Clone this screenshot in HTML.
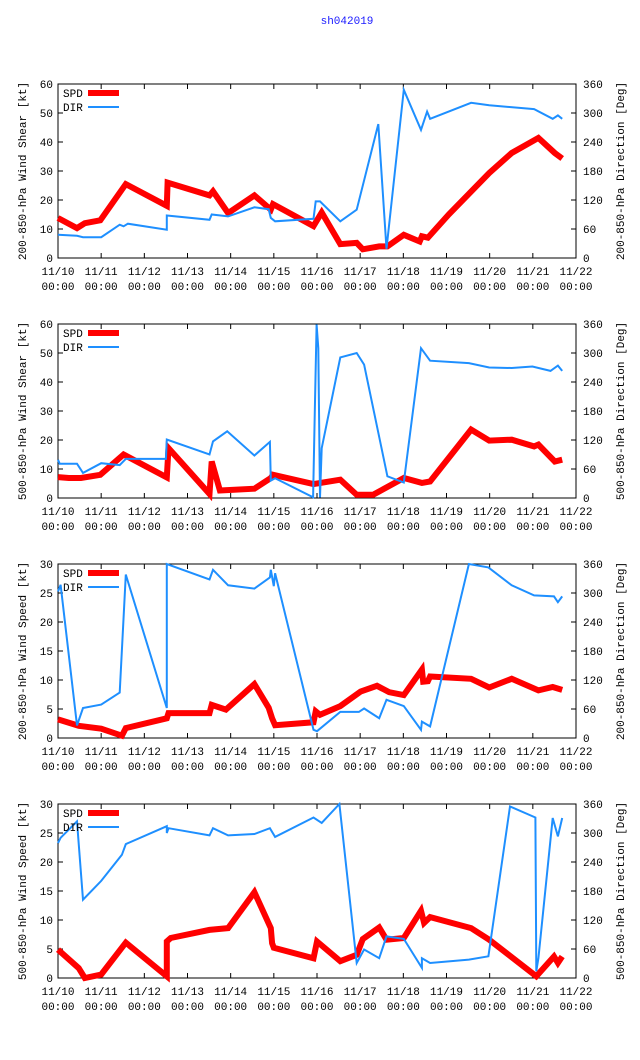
<!DOCTYPE html>
<html><head><meta charset="utf-8"><style>
body{margin:0;background:#fff;}
svg{display:block;font-family:"Liberation Mono",monospace;font-size:11px;}
</style></head><body>
<svg id="chart" width="640" height="1060" viewBox="0 0 640 1060">
<text x="347" y="24" text-anchor="middle" fill="#1a1aff">sh042019</text>
</svg>
<script>
const xTickLabels = ["11/10","11/11","11/12","11/13","11/14","11/15","11/16","11/17","11/18","11/19","11/20","11/21","11/22"];
const leftTitles = ["200-850-hPa Wind Shear [kt]","500-850-hPa Wind Shear [kt]","200-850-hPa Wind Speed [kt]","500-850-hPa Wind Speed [kt]"];
const rightTitles = ["200-850-hPa Direction [Deg]","500-850-hPa Direction [Deg]","200-850-hPa Direction [Deg]","500-850-hPa Direction [Deg]"];
const spdMax = [60,60,30,30];
const dirTicks = [0,60,120,180,240,300,360];

const p1SpdDays = [0,0.44,0.62,0.98,1.57,2.52,2.54,3.51,3.59,3.94,4.55,4.93,4.98,5.92,6.11,6.54,6.92,7.06,7.44,7.63,8.01,8.38,8.43,8.57,9.05,9.99,10.51,11.13,11.51,11.68];
const p1SpdVals = [13.8,10.3,12,13,25.5,18,26,21.6,23,15.5,21.6,16.7,18.6,11,15.7,4.8,5.2,3,4,4,8,5.7,7.5,7,15,29.3,36.2,41.4,36.2,34.3];
const p1DirDays = [0,0.44,0.58,1.0,1.43,1.52,1.62,2.52,2.52,3.51,3.56,3.94,4.55,4.88,4.93,5.03,5.92,5.97,6.07,6.54,6.92,7.42,7.61,8.01,8.41,8.55,8.62,9.57,9.99,11.03,11.46,11.58,11.68];
const p1DirVals = [48,46,43,43,69,65.5,71,58.6,88,79,90,86,105,101,83,76,81,117,117,76,100,277,19,348,265,303,288,321,316,308,288,295,288];

const p2SpdDays = [0,0.25,0.53,0.98,1.52,2.52,2.56,3.51,3.56,3.75,4.55,4.93,4.98,5.92,6.54,6.92,7.3,8.01,8.43,8.62,9.57,9.99,10.51,11.03,11.13,11.51,11.68];
const p2SpdVals = [7.2,6.9,6.9,8,15,7.1,17.2,1.4,12.6,2.6,3.2,6.9,8,4.8,6.3,1.1,1.1,6.9,5.2,5.7,23.6,19.8,20.1,17.8,18.4,12.6,13.2];
const p2DirDays = [0,0.04,0.44,0.58,1.0,1.43,1.57,2.5,2.52,3.51,3.59,3.92,4.55,4.91,4.93,5.03,5.91,5.95,5.99,6.03,6.07,6.11,6.54,6.92,7.09,7.63,8.01,8.41,8.62,9.52,9.99,10.51,10.99,11.41,11.58,11.68];
const p2DirVals = [79,71,71,52,72,68,81,81,121,90,117,138,88,116,36,41,1.4,179,359,310,1,103,291,300,276,45,32,310,284,279,270,269,272,263,274,263];

const p3SpdDays = [0,0.48,1.0,1.48,1.57,2.52,2.56,3.51,3.56,3.89,4.55,4.88,4.96,5.03,5.92,5.97,6.07,6.54,7.01,7.39,7.67,8.01,8.43,8.46,8.57,8.62,9.57,9.99,10.51,11.13,11.46,11.68];
const p3SpdVals = [3.2,2.1,1.6,0.4,1.7,3.4,4.3,4.3,5.7,4.9,9.3,5.2,3.4,2.2,2.7,4.6,4,5.5,8,9,7.9,7.4,11.8,9.7,9.8,10.6,10.2,8.7,10.2,8.2,8.8,8.3];
const p3DirDays = [0,0.06,0.44,0.58,1.0,1.43,1.57,2.52,2.52,3.51,3.59,3.94,4.55,4.91,4.93,5.0,5.03,5.92,6.0,6.54,6.97,7.09,7.44,7.61,8.01,8.41,8.43,8.62,9.52,9.97,10.51,11.03,11.49,11.58,11.68];
const p3DirVals = [303,317,26,62,69,94,338,62,360,328,348,316,309,332,348,314,341,17,14,54,54,61,41,79,66,17,34,24,360,353,316,295,293,281,293];

const p4SpdDays = [0,0.48,0.62,1.0,1.57,2.52,2.52,2.61,3.51,3.94,4.55,4.93,4.96,5.0,5.92,6.0,6.54,6.92,7.06,7.44,7.61,8.01,8.41,8.48,8.62,9.57,9.99,11.08,11.49,11.58,11.68];
const p4SpdVals = [4.9,1.7,0,0.6,6.1,0.3,6.3,6.9,8.3,8.6,14.8,8.6,6,5.2,3.4,6.3,2.9,4,6.7,8.7,6.6,6.9,11.6,9.5,10.5,8.6,6.6,0.3,3.7,2.6,3.7];
const p4DirDays = [0,0.06,0.44,0.58,1.0,1.48,1.57,2.52,2.52,2.56,3.51,3.59,3.94,4.55,4.91,5.03,5.92,6.11,6.52,6.92,7.09,7.44,7.61,8.01,8.43,8.43,8.62,9.52,9.97,10.47,11.06,11.08,11.13,11.46,11.58,11.68];
const p4DirVals = [279,290,324,162,201,255,277,314,300,310,295,310,295,298,310,292,332,321,360,31,59,41,86,81,21,41,31,38,45,355,332,14,41,331,293,331];

const spdDays = [p1SpdDays,p2SpdDays,p3SpdDays,p4SpdDays];
const spdVals = [p1SpdVals,p2SpdVals,p3SpdVals,p4SpdVals];
const dirDays = [p1DirDays,p2DirDays,p3DirDays,p4DirDays];
const dirVals = [p1DirVals,p2DirVals,p3DirVals,p4DirVals];

const svg = document.getElementById('chart');
const NS = 'http://www.w3.org/2000/svg';
const L = 58, R = 576, H = 174;
const tops = [84,324,564,804];
function mk(tag, attrs, parent){
  const e = document.createElementNS(NS, tag);
  for (const k in attrs) e.setAttribute(k, attrs[k]);
  (parent||svg).appendChild(e);
  return e;
}
const xScale = d => L + d/12*(R-L);

tops.forEach((T, p) => {
  const g = mk('g', {});
  
  
  const B = T + H;
  const yS = v => B - v/spdMax[p]*H;
  const yD = v => B - v/360*H;
  const frame = mk('rect', {x:L, y:T, width:R-L, height:H, fill:'none', stroke:'#000', 'stroke-width':1}, g);
  
  
  const step = spdMax[p]/6;
  for (let i=0;i<=6;i++){
    const v = i*step, y = yS(v);
    mk('line', {x1:L, x2:L+5, y1:y, y2:y, stroke:'#000'}, g);
    const t = mk('text', {x:53, y:y+4, 'text-anchor':'end'}, g);
    t.textContent = v;
    
    
  }
  dirTicks.forEach(v => {
    const y = yD(v);
    mk('line', {x1:R-5, x2:R, y1:y, y2:y, stroke:'#000'}, g);
    const t = mk('text', {x:583, y:y+4}, g);
    t.textContent = v;
    
    
  });
  xTickLabels.forEach((lab, i) => {
    const x = xScale(i);
    mk('line', {x1:x, x2:x, y1:B, y2:B-5, stroke:'#000'}, g);
    mk('line', {x1:x, x2:x, y1:T, y2:T+5, stroke:'#000'}, g);
    const t = mk('text', {x:x, y:B+17, 'text-anchor':'middle'}, g);
    t.textContent = lab;
    
    
    const t2 = mk('text', {x:x, y:B+32, 'text-anchor':'middle'}, g);
    t2.textContent = '00:00';
    
    
  });
  const yt = mk('text', {x:0, y:0, 'text-anchor':'middle', transform:`translate(26 ${T+H/2}) rotate(-90)`}, g);
  yt.textContent = leftTitles[p];
  
  
  const yt2 = mk('text', {x:0, y:0, 'text-anchor':'middle', transform:`translate(624 ${T+H/2}) rotate(-90)`}, g);
  yt2.textContent = rightTitles[p];
  
  
  const dp = dirDays[p].map((d,i)=>xScale(d).toFixed(1)+','+yD(dirVals[p][i]).toFixed(1)).join(' ');
  const sp = spdDays[p].map((d,i)=>xScale(d).toFixed(1)+','+yS(spdVals[p][i]).toFixed(1)).join(' ');
  const spd = mk('polyline', {points:sp, fill:'none', stroke:'#ff0000', 'stroke-width':6, 'stroke-linejoin':'miter'}, g);
  
  
  const dir = mk('polyline', {points:dp, fill:'none', stroke:'#1e8fff', 'stroke-width':2}, g);
  
  
  const l1 = mk('text', {x:63, y:T+13}, g);
  l1.textContent = 'SPD';
  
  
  const ls = mk('line', {x1:88, x2:119, y1:T+9, y2:T+9, stroke:'#ff0000', 'stroke-width':6}, g);
  
  
  const l2 = mk('text', {x:63, y:T+27}, g);
  l2.textContent = 'DIR';
  
  
  const ld = mk('line', {x1:88, x2:119, y1:T+23, y2:T+23, stroke:'#1e8fff', 'stroke-width':2}, g);
  
  
});
</script>
</body></html>
